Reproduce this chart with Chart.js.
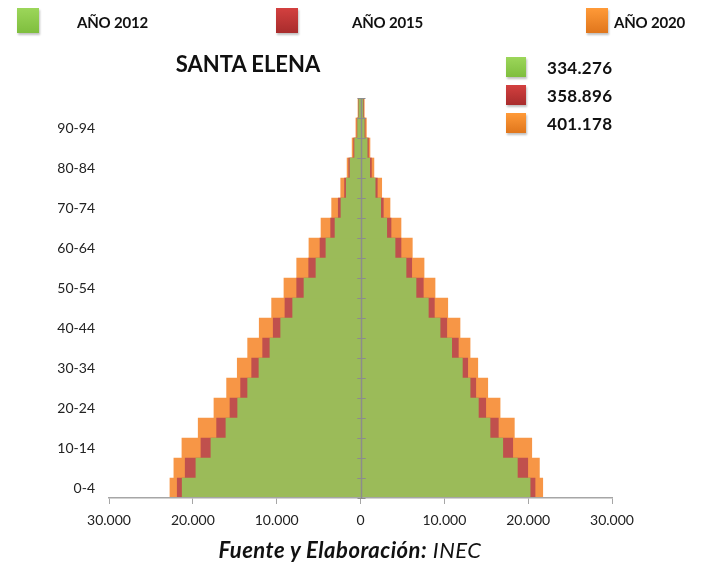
<!DOCTYPE html>
<html lang="es">
<head>
<meta charset="utf-8">
<title>Santa Elena – pirámide de población</title>
<script src="https://cdn.jsdelivr.net/npm/chart.js@4/dist/chart.umd.min.js"></script>
<style>
  html, body { margin: 0; padding: 0; background: #fff; }
  #wrap { position: relative; width: 702px; height: 562px; overflow: hidden; font-family: Lato, "Open Sans", sans-serif; }
  #chart { position: absolute; left: 0; top: 0; }
  .lbox { position: absolute; box-shadow: 1px 2px 2px rgba(0,0,0,0.25); }
  .ltext { position: absolute; font-weight: 700; color: #111; white-space: nowrap; line-height: 1; }
  #title { position: absolute; left: 248px; top: 63px; transform: translate(-50%, -50%); font-weight: 700; font-size: 22px; color: #111; white-space: nowrap; }
  #source { position: absolute; left: 350px; top: 549px; transform: translate(-50%, -50%); font-style: italic; font-size: 22px; letter-spacing: 0.5px; color: #111; white-space: nowrap; }
  #source b { font-weight: 700; }
</style>
</head>
<body>
<div id="wrap">
  <canvas id="chart" width="702" height="562"></canvas>
  <div id="title">SANTA ELENA</div>
  <div id="source"><b>Fuente y Elaboración:</b> INEC</div>
</div>
<script>
// Age groups, youngest first
const ageGroups = ['0-4','5-9','10-14','15-19','20-24','25-29','30-34','35-39','40-44','45-49',
                   '50-54','55-59','60-64','65-69','70-74','75-79','80-84','85-89','90-94','95-99'];

const years = ['AÑO 2012', 'AÑO 2015', 'AÑO 2020'];
const totals = ['334.276', '358.896', '401.178'];

// Men (left side) and women (right side), persons per age group
const men2012   = [21270,19630,17840,16050,14650,13460,12110,10800,9520,8090,6740,5310,4120,3040,2330,1700,1250,700,350,200];
const women2012 = [20230,18710,16970,15450,14060,13070,12150,10880,9490,8090,6620,5430,4120,3130,2410,1750,1100,800,450,300];
const men2015   = [21860,20910,19030,17160,15570,14300,12980,11670,10410,9010,7610,6180,4830,3560,2650,1900,1400,820,420,250];
const women2015 = [20820,19950,18160,16440,14940,13750,12790,11670,10290,8810,7490,6110,4830,3640,2720,2000,1300,950,550,380];
const men2020   = [22730,22260,21300,19360,17480,15970,14700,13460,12080,10600,9130,7610,6150,4710,3440,2360,1600,1000,550,300];
const women2020 = [21740,21340,20430,18350,16650,15180,13990,13070,11870,10410,8890,7580,6180,4830,3520,2530,1600,1130,700,450];

const barColors = ['#9BBB59', '#C0504D', '#F79646'];
const boxGradients = [
  'linear-gradient(#9cd65a, #7fbe3e)',
  'linear-gradient(#d3403f, #a82c2c)',
  'linear-gradient(#ff9a38, #e0761c)'
];

// Each year is one floating bar per age group: from -men to +women
const span = (m, w) => m.map((v, i) => [-v, w[i]]);
const seriesData = [span(men2012, women2012), span(men2015, women2015), span(men2020, women2020)];

const fmt = v => String(v).replace(/\B(?=(\d{3})+(?!\d))/g, '.');

// Top legend row
const wrap = document.getElementById('wrap');
const topBoxX = [17, 276, 586];
const topTextX = [77, 352, 614];
years.forEach((name, i) => {
  const b = document.createElement('div');
  b.className = 'lbox';
  Object.assign(b.style, { left: topBoxX[i] + 'px', top: '8px', width: '22px', height: '25px', background: boxGradients[i] });
  wrap.appendChild(b);
  const t = document.createElement('div');
  t.className = 'ltext';
  Object.assign(t.style, { left: topTextX[i] + 'px', top: '15px', fontSize: '15px', letterSpacing: '-0.2px' });
  t.textContent = name;
  wrap.appendChild(t);
});

// Totals legend
totals.forEach((txt, i) => {
  const top = 57 + i * 28;
  const b = document.createElement('div');
  b.className = 'lbox';
  Object.assign(b.style, { left: '506px', top: top + 'px', width: '20px', height: '20px', background: boxGradients[i] });
  wrap.appendChild(b);
  const t = document.createElement('div');
  t.className = 'ltext';
  Object.assign(t.style, { left: '547px', top: (top + 2) + 'px', fontSize: '17px', letterSpacing: '0.3px' });
  t.textContent = txt;
  wrap.appendChild(t);
});

// Central axis line over the bars, with short tick marks at each age-group boundary
const centerAxis = {
  id: 'centerAxis',
  afterDraw(chart) {
    const { ctx, chartArea, scales: { x, y } } = chart;
    const x0 = Math.round(x.getPixelForValue(0)) + 0.5;
    const half = Math.abs(y.getPixelForValue(1) - y.getPixelForValue(0)) / 2;
    ctx.save();
    ctx.strokeStyle = '#8c8c8c';
    ctx.lineWidth = 1.5;
    ctx.beginPath();
    ctx.moveTo(x0, chartArea.top);
    ctx.lineTo(x0, chartArea.bottom);
    ctx.stroke();
    ctx.lineWidth = 1;
    ctx.beginPath();
    for (let i = 0; i < ageGroups.length; i++) {
      const c = y.getPixelForValue(i);
      [c - half, c + half].forEach(py => {
        ctx.moveTo(x0 - 4, Math.round(py) + 0.5);
        ctx.lineTo(x0 + 4, Math.round(py) + 0.5);
      });
    }
    ctx.stroke();
    ctx.restore();
  }
};

new Chart(document.getElementById('chart'), {
  type: 'bar',
  data: {
    labels: ageGroups,
    datasets: years.map((name, i) => ({
      label: name,
      data: seriesData[i],
      backgroundColor: barColors[i],
      borderWidth: 0,
      grouped: false,
      barPercentage: 1,
      categoryPercentage: 1
    }))
  },
  options: {
    indexAxis: 'y',
    responsive: false,
    animation: false,
    layout: { padding: { top: 98, right: 90, bottom: 0, left: 0 } },
    plugins: { legend: { display: false }, tooltip: { enabled: false }, title: { display: false } },
    scales: {
      x: {
        min: -30000,
        max: 30000,
        afterFit: s => { s.height = 64; },
        ticks: {
          stepSize: 10000,
          padding: 8,
          color: '#222',
          font: { family: 'Lato', size: 14 },
          callback: v => fmt(Math.abs(v))
        },
        grid: {
          drawOnChartArea: false,
          tickColor: '#a6a6a6',
          tickLength: 6
        },
        border: { display: true, color: '#a6a6a6', width: 1.5, z: 1 }
      },
      y: {
        reverse: true,
        afterFit: s => { s.width = 109; },
        ticks: {
          autoSkip: false,
          padding: 14,
          color: '#222',
          font: { family: 'Lato', size: 14 },
          callback: (v, i) => (i % 2 === 0 ? ageGroups[i] : '')
        },
        grid: { display: false, drawTicks: false },
        border: { display: false }
      }
    }
  },
  plugins: [centerAxis]
});
</script>
</body>
</html>
